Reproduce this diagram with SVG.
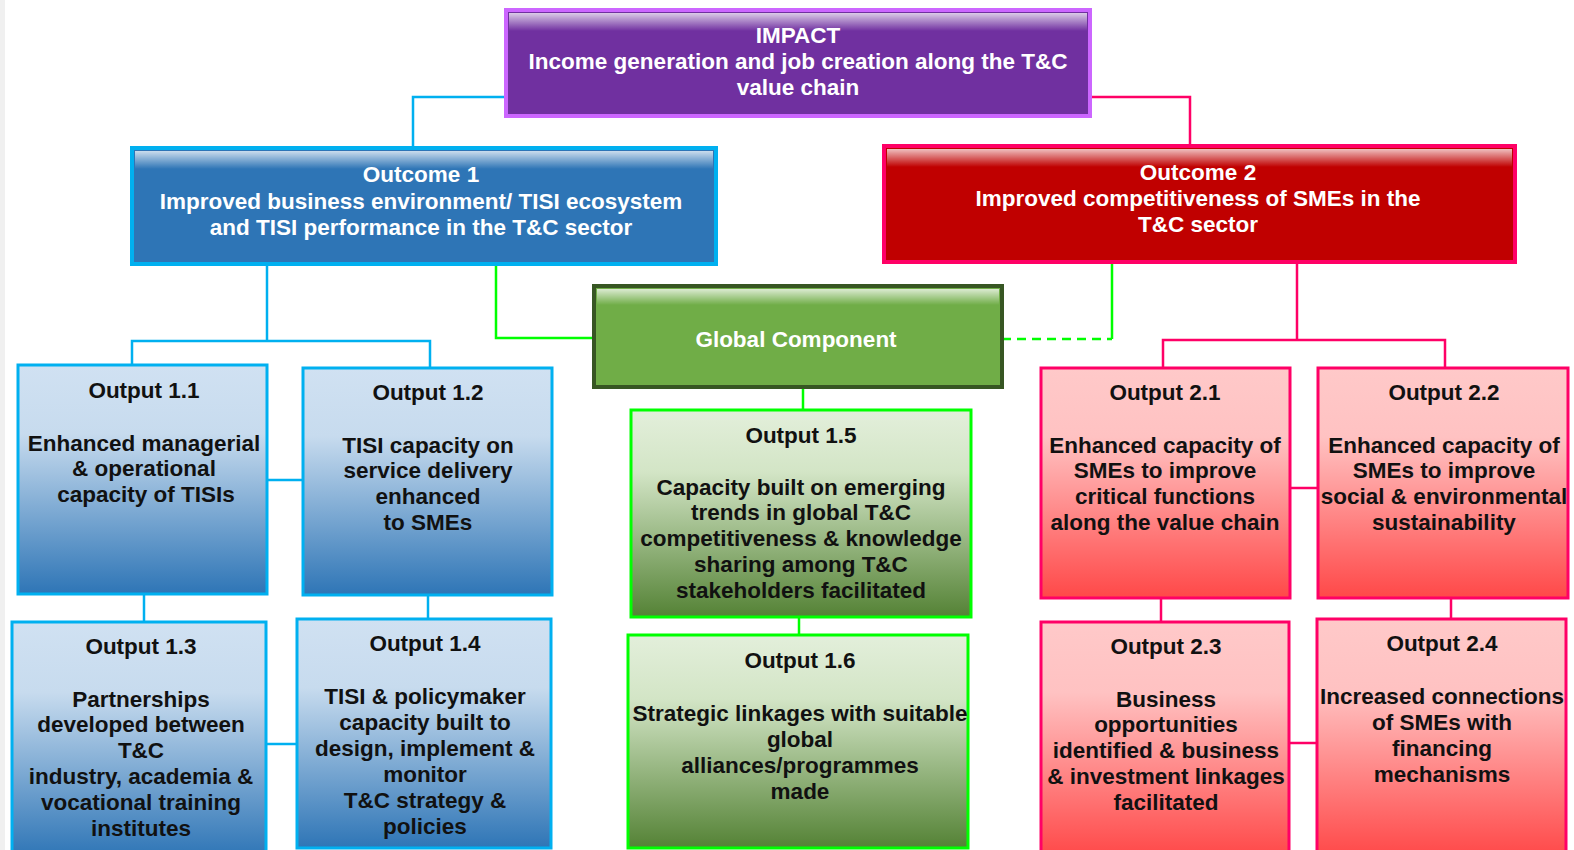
<svg xmlns="http://www.w3.org/2000/svg" width="1574" height="850" viewBox="0 0 1574 850">
<defs>
<linearGradient id="gBlue" x1="0" y1="0" x2="0" y2="1">
<stop offset="0" stop-color="#D0E1F2"/><stop offset="0.3" stop-color="#C7DBEE"/><stop offset="1" stop-color="#2E75B6"/>
</linearGradient>
<linearGradient id="gRed" x1="0" y1="0" x2="0" y2="1">
<stop offset="0" stop-color="#FFC9C9"/><stop offset="0.3" stop-color="#FFC2C2"/><stop offset="1" stop-color="#FF4848"/>
</linearGradient>
<linearGradient id="gGreen" x1="0" y1="0" x2="0" y2="1">
<stop offset="0" stop-color="#E3EFDB"/><stop offset="0.3" stop-color="#D3E5C6"/><stop offset="1" stop-color="#548235"/>
</linearGradient>
<linearGradient id="gloss" x1="0" y1="0" x2="0" y2="1">
<stop offset="0" stop-color="#FFFFFF" stop-opacity="0.75"/><stop offset="1" stop-color="#FFFFFF" stop-opacity="0"/>
</linearGradient>
<style>
text{font-family:"Liberation Sans",Arial,sans-serif;font-weight:bold;font-size:22.5px;text-anchor:middle}
.w{fill:#FFFFFF}
.k{fill:#111111}
.hb{stroke-width:4}
.ob{stroke-width:3}
.cb{fill:none;stroke:#00B0F0;stroke-width:2.5}
.cr{fill:none;stroke:#FF0066;stroke-width:2.5}
.cg{fill:none;stroke:#00FF00;stroke-width:2.5}
</style>
</defs>
<rect x="0" y="0" width="1574" height="850" fill="#FFFFFF"/>
<rect x="0" y="0" width="5" height="850" fill="#F0F0F0"/>

<g id="connectors">
<polyline class="cb" points="506,97 413,97 413,148"/>
<polyline class="cr" points="1090,97 1190,97 1190,146"/>
<polyline class="cb" points="267,264 267,341"/>
<polyline class="cb" points="132,365 132,341 430,341 430,368"/>
<line class="cb" x1="267" y1="480" x2="303" y2="480"/>
<line class="cb" x1="144" y1="594" x2="144" y2="622"/>
<line class="cb" x1="428" y1="595" x2="428" y2="619"/>
<line class="cb" x1="266" y1="744" x2="297" y2="744"/>
<polyline class="cg" points="496,264 496,338 594,338"/>
<line class="cg" x1="1002" y1="339" x2="1112" y2="339" stroke-dasharray="9,6"/>
<line class="cg" x1="1112" y1="339" x2="1112" y2="262"/>
<line class="cg" x1="803" y1="387" x2="803" y2="410"/>
<line class="cg" x1="799" y1="617" x2="799" y2="635"/>
<polyline class="cr" points="1297,262 1297,340"/>
<polyline class="cr" points="1163,368 1163,340 1445,340 1445,368"/>
<line class="cr" x1="1290" y1="488" x2="1318" y2="488"/>
<line class="cr" x1="1161" y1="598" x2="1161" y2="622"/>
<line class="cr" x1="1451" y1="598" x2="1451" y2="619"/>
<line class="cr" x1="1289" y1="743" x2="1317" y2="743"/>
</g>

<g id="impact">
<rect x="506" y="10" width="584" height="106" fill="#7030A0" stroke="#CC66FF" class="hb"/>
<rect x="509" y="13" width="578" height="18" fill="url(#gloss)"/>
<text class="w" x="798" y="43">IMPACT</text>
<text class="w" x="798" y="69">Income generation and job creation along the T&amp;C</text>
<text class="w" x="798" y="95">value chain</text>
</g>

<g id="outcome1">
<rect x="132" y="148" width="584" height="116" fill="#2E75B6" stroke="#00B0F0" class="hb"/>
<rect x="135" y="151" width="578" height="18" fill="url(#gloss)"/>
<text class="w" x="421" y="182">Outcome 1</text>
<text class="w" x="421" y="209">Improved business environment/ TISI ecosystem</text>
<text class="w" x="421" y="235">and TISI performance in the T&amp;C sector</text>
</g>

<g id="outcome2">
<rect x="884" y="146" width="631" height="116" fill="#C00000" stroke="#FF0066" class="hb"/>
<rect x="887" y="149" width="625" height="18" fill="url(#gloss)"/>
<text class="w" x="1198" y="180">Outcome 2</text>
<text class="w" x="1198" y="206">Improved competitiveness of SMEs in the</text>
<text class="w" x="1198" y="232">T&amp;C sector</text>
</g>

<g id="global">
<rect x="594" y="286" width="408" height="101" fill="#70AD47" stroke="#375623" class="hb"/>
<rect x="597" y="289" width="402" height="16" fill="url(#gloss)"/>
<text class="w" x="796" y="347">Global Component</text>
</g>

<g id="output11">
<rect x="18" y="365" width="249" height="229" fill="url(#gBlue)" stroke="#00B0F0" class="ob"/>
<text class="k" x="144" y="398">Output 1.1</text>
<text class="k" x="144" y="451">Enhanced managerial</text>
<text class="k" x="144" y="476">&amp; operational</text>
<text class="k" x="146" y="502">capacity of TISIs</text>
</g>

<g id="output12">
<rect x="303" y="368" width="249" height="227" fill="url(#gBlue)" stroke="#00B0F0" class="ob"/>
<text class="k" x="428" y="400">Output 1.2</text>
<text class="k" x="428" y="453">TISI capacity on</text>
<text class="k" x="428" y="478">service delivery</text>
<text class="k" x="428" y="504">enhanced</text>
<text class="k" x="428" y="530">to SMEs</text>
</g>

<g id="output13">
<rect x="12" y="622" width="254" height="235" fill="url(#gBlue)" stroke="#00B0F0" class="ob"/>
<text class="k" x="141" y="654">Output 1.3</text>
<text class="k" x="141" y="707">Partnerships</text>
<text class="k" x="141" y="732">developed between</text>
<text class="k" x="141" y="758">T&amp;C</text>
<text class="k" x="141" y="784">industry, academia &amp;</text>
<text class="k" x="141" y="810">vocational training</text>
<text class="k" x="141" y="836">institutes</text>
</g>

<g id="output14">
<rect x="297" y="619" width="254" height="229" fill="url(#gBlue)" stroke="#00B0F0" class="ob"/>
<text class="k" x="425" y="651">Output 1.4</text>
<text class="k" x="425" y="704">TISI &amp; policymaker</text>
<text class="k" x="425" y="730">capacity built to</text>
<text class="k" x="425" y="756">design, implement &amp;</text>
<text class="k" x="425" y="782">monitor</text>
<text class="k" x="425" y="808">T&amp;C strategy &amp;</text>
<text class="k" x="425" y="834">policies</text>
</g>

<g id="output15">
<rect x="631" y="410" width="340" height="207" fill="url(#gGreen)" stroke="#00FF00" class="ob"/>
<text class="k" x="801" y="443">Output 1.5</text>
<text class="k" x="801" y="495">Capacity built on emerging</text>
<text class="k" x="801" y="520">trends in global T&amp;C</text>
<text class="k" x="801" y="546">competitiveness &amp; knowledge</text>
<text class="k" x="801" y="572">sharing among T&amp;C</text>
<text class="k" x="801" y="598">stakeholders facilitated</text>
</g>

<g id="output16">
<rect x="628" y="635" width="340" height="213" fill="url(#gGreen)" stroke="#00FF00" class="ob"/>
<text class="k" x="800" y="668">Output 1.6</text>
<text class="k" x="800" y="721">Strategic linkages with suitable</text>
<text class="k" x="800" y="747">global</text>
<text class="k" x="800" y="773">alliances/programmes</text>
<text class="k" x="800" y="799">made</text>
</g>

<g id="output21">
<rect x="1041" y="368" width="249" height="230" fill="url(#gRed)" stroke="#FF0066" class="ob"/>
<text class="k" x="1165" y="400">Output 2.1</text>
<text class="k" x="1165" y="453">Enhanced capacity of</text>
<text class="k" x="1165" y="478">SMEs to improve</text>
<text class="k" x="1165" y="504">critical functions</text>
<text class="k" x="1165" y="530">along the value chain</text>
</g>

<g id="output22">
<rect x="1318" y="368" width="250" height="230" fill="url(#gRed)" stroke="#FF0066" class="ob"/>
<text class="k" x="1444" y="400">Output 2.2</text>
<text class="k" x="1444" y="453">Enhanced capacity of</text>
<text class="k" x="1444" y="478">SMEs to improve</text>
<text class="k" x="1444" y="504">social &amp; environmental</text>
<text class="k" x="1444" y="530">sustainability</text>
</g>

<g id="output23">
<rect x="1041" y="622" width="248" height="235" fill="url(#gRed)" stroke="#FF0066" class="ob"/>
<text class="k" x="1166" y="654">Output 2.3</text>
<text class="k" x="1166" y="707">Business</text>
<text class="k" x="1166" y="732">opportunities</text>
<text class="k" x="1166" y="758">identified &amp; business</text>
<text class="k" x="1166" y="784">&amp; investment linkages</text>
<text class="k" x="1166" y="810">facilitated</text>
</g>

<g id="output24">
<rect x="1317" y="619" width="249" height="238" fill="url(#gRed)" stroke="#FF0066" class="ob"/>
<text class="k" x="1442" y="651">Output 2.4</text>
<text class="k" x="1442" y="704">Increased connections</text>
<text class="k" x="1442" y="730">of SMEs with</text>
<text class="k" x="1442" y="756">financing</text>
<text class="k" x="1442" y="782">mechanisms</text>
</g>
</svg>
